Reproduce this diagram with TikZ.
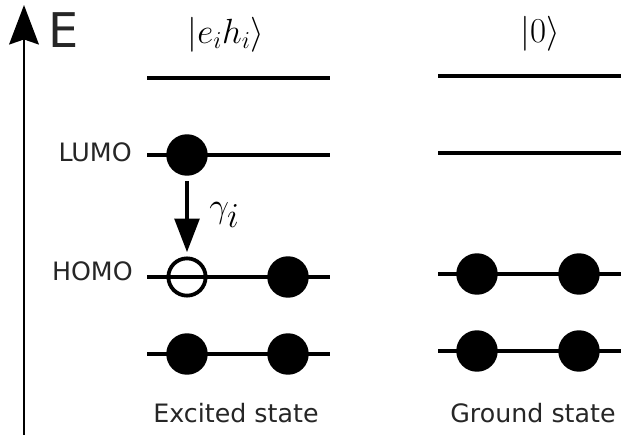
\documentclass[tikz,border=0pt]{standalone}
\usepackage[no-math]{fontspec}
\newfontfamily\lblfont{DejaVu Sans}
\usetikzlibrary{arrows.meta,positioning}
\tikzset{
    lvl/.style={line width=2.9pt},
    elec/.style={circle, fill=black, inner sep=0pt, minimum size=29.5pt},
    hole/.style={circle, draw=black, line width=2.7pt, inner sep=0pt, minimum size=26.5pt},
    orb/.style={font=\lblfont\fontsize{18}{20}\selectfont, text=black!85, inner sep=0pt},
    ket/.style={inner sep=0pt, font=\fontsize{#1}{#1}\selectfont},
    decay/.style={-{Triangle[length=24pt,width=17.5pt]}, line width=2.9pt},
    eaxis/.style={-{Stealth[length=28pt,width=21pt,inset=3.5pt]}, line width=2.1pt},
}
\begin{document}
\begin{tikzpicture}[x=0.025cm, y=-0.025cm]
    \useasboundingbox (0,0) rectangle (621,435);
    % energy axis
    \coordinate (axbot) at (24,435);
    \coordinate (axtop) at (24,5);
    \draw[eaxis] (axbot) -- (axtop);
    \node[orb, font=\lblfont\fontsize{34}{36}\selectfont, anchor=base west] (elbl) at (48,47) {E};
    % levels
    \foreach \y in {78,155,277,354} \draw[lvl] (147,\y) -- (330,\y);
    \foreach \y in {76,153,274,351} \draw[lvl] (438,\y) -- (621,\y);
    % excited state
    \node[elec] (lumoE) at (187,155) {};
    \node[hole] (homoH) at (187,277) {};
    \node[elec] (homoE) at (288,277) {};
    \node[elec] (lowEa) at (187,354) {};
    \node[elec] (lowEb) at (288,354) {};
    \draw[decay, shorten <=3.5pt, shorten >=3pt] (lumoE) -- (homoH);
    % ground state
    \node[elec] (gsHa) at (477,274) {};
    \node[elec] (gsHb) at (579,274) {};
    \node[elec] (gsLa) at (477,351) {};
    \node[elec] (gsLb) at (579,351) {};
    % labels
    \node[orb, anchor=east] (lumo) at (132,152) {LUMO};
    \node[orb, anchor=east] (homo) at (133,271) {HOMO};
    \node[orb, anchor=base] (exc) at (236,422) {Excited state};
    \node[orb, anchor=base] (gnd) at (533,422) {Ground state};
    \node[ket=24, anchor=base] (exket) at (226,43) {$|e_ih_i\rangle$};
    \node[ket=28, anchor=base] (gsket) at (540,42) {$|0\rangle$};
    \node[ket=38, anchor=base west] (rate) at (209,217) {$\gamma_i$};
\end{tikzpicture}
\end{document}
